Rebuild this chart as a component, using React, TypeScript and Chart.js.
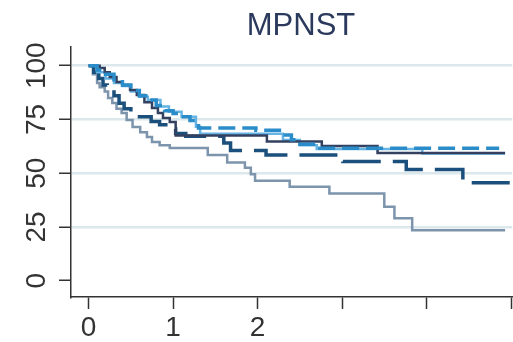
import { useEffect, useRef } from 'react';
import { Chart, registerables } from 'chart.js';

Chart.register(...registerables);

// Axis ticks
const xTickValues = [0, 1, 2, 3, 4, 5];
const xTickLabels = ['0', '1', '2', '', '', ''];
const yTickValues = [0, 25, 50, 75, 100];

// Kaplan-Meier curves: time of each step and survival (%) after it
const steelTimes = [0, 0.05, 0.10, 0.13, 0.19, 0.23, 0.28, 0.33, 0.39, 0.45, 0.52, 0.61, 0.69, 0.75, 0.84, 0.96, 1.41, 1.64, 1.85, 1.92, 1.97, 2.38, 2.85, 3.50, 3.62, 3.83, 4.93];
const steelSurv = [100, 96, 92, 90, 88, 85, 82.6, 80, 78, 74.7, 71.5, 69, 66.8, 64.5, 63, 61.7, 58.5, 55, 52.5, 49.5, 46.5, 43.7, 40.6, 34.4, 29, 23.5, 23.5];

const darkDashTimes = [0, 0.06, 0.12, 0.17, 0.22, 0.30, 0.36, 0.42, 0.50, 0.74, 0.84, 0.95, 1.03, 1.15, 1.60, 1.68, 2.10, 3.01, 3.76, 4.43, 4.99];
const darkDashSurv = [100, 97, 94, 91, 88.6, 86, 82.5, 80, 76.3, 74, 72.5, 70.5, 68.5, 67.2, 64, 60.6, 58.5, 55.4, 51.7, 45.6, 45.6];

const navyTimes = [0, 0.13, 0.19, 0.25, 0.33, 0.40, 0.49, 0.57, 0.66, 0.75, 0.82, 0.88, 0.96, 1.03, 2.11, 2.76, 3.42, 4.93];
const navySurv = [100, 98.9, 97, 94.7, 92.4, 91, 88.7, 86.4, 83, 80.3, 78, 75.7, 73.8, 67.5, 64.7, 62.6, 59.4, 59.4];

const skyTimes = [0, 0.10, 0.20, 0.30, 0.40, 0.50, 0.60, 0.70, 0.85, 0.95, 1.10, 1.27, 1.32, 2.30, 2.50, 2.70, 3.95, 4.93];
const skySurv = [100, 97, 94, 92, 90.5, 88, 85.6, 84, 81, 78.6, 76.3, 71.6, 68.3, 65.4, 63, 61.3, 59.2, 59.2];

const blueDashTimes = [0, 0.10, 0.20, 0.30, 0.40, 0.50, 0.60, 0.70, 0.80, 0.90, 1.00, 1.10, 1.20, 1.30, 1.98, 2.28, 2.40, 2.50, 2.70, 4.86];
const blueDashSurv = [100, 98, 96, 93.5, 91, 88.5, 86, 84, 81.5, 79, 77.8, 76.3, 74.5, 71, 70, 67.8, 65.5, 63.5, 61.6, 61.6];

const toPoints = (times: number[], surv: number[]) =>
  times.map((t, i) => ({ x: t, y: surv[i] }));

const FONT = '"Liberation Sans", Arial, sans-serif';

const panelTitle = {
  id: 'panelTitle',
  afterDraw(chart: Chart) {
    const { ctx } = chart;
    ctx.save();
    ctx.font = `31px ${FONT}`;
    ctx.fillStyle = '#2b3a5c';
    ctx.textAlign = 'center';
    ctx.textBaseline = 'alphabetic';
    ctx.fillText('MPNST', 301, 35);
    ctx.restore();
  },
};

export default function App() {
  const canvasRef = useRef<HTMLCanvasElement | null>(null);

  useEffect(() => {
    const canvas = canvasRef.current;
    if (!canvas) return;

    const curve = (data: { x: number; y: number }[], color: string, width: number, dash: number[] = []) => ({
      data,
      borderColor: color,
      borderWidth: width,
      borderDash: dash,
      stepped: true as const,
      pointRadius: 0,
      fill: false,
      tension: 0,
    });

    const chart = new Chart(canvas, {
      type: 'line',
      data: {
        datasets: [
          curve(toPoints(blueDashTimes, blueDashSurv), '#2a8cc8', 3.5, [17, 7]),
          curve(toPoints(navyTimes, navySurv), '#33405f', 2.5),
          curve(toPoints(skyTimes, skySurv), '#66b4e4', 2.5),
          curve(toPoints(darkDashTimes, darkDashSurv), '#1b4f7c', 3.5, [38, 12]),
          curve(toPoints(steelTimes, steelSurv), '#7c94ac', 2.5),
        ],
      },
      options: {
        animation: false,
        responsive: false,
        layout: { padding: { top: 47, left: 0, right: 0, bottom: 0 } },
        plugins: {
          legend: { display: false },
          tooltip: { enabled: false },
          title: { display: false },
        },
        scales: {
          x: {
            type: 'linear',
            min: -0.209,
            max: 5.015,
            afterBuildTicks: (scale: any) => {
              scale.ticks = xTickValues.map((v) => ({ value: v }));
            },
            afterFit: (scale: any) => {
              scale.height = 45;
            },
            ticks: {
              autoSkip: false,
              maxRotation: 0,
              minRotation: 0,
              padding: 2,
              color: '#333333',
              font: { size: 28, family: FONT },
              callback: (value: any) => {
                const i = xTickValues.indexOf(Number(value));
                return i >= 0 ? xTickLabels[i] : '';
              },
            },
            grid: {
              drawOnChartArea: false,
              drawTicks: true,
              tickLength: 12,
              tickColor: '#333333',
              tickWidth: 1.5,
            },
            border: { display: true, color: '#333333', width: 1.5 },
          },
          y: {
            type: 'linear',
            min: -7.6,
            max: 108.7,
            afterBuildTicks: (scale: any) => {
              scale.ticks = yTickValues.map((v) => ({ value: v }));
            },
            afterFit: (scale: any) => {
              scale.width = 71;
            },
            ticks: {
              autoSkip: false,
              minRotation: 90,
              maxRotation: 90,
              crossAlign: 'center',
              padding: -2,
              color: '#333333',
              font: { size: 28, family: FONT },
            },
            grid: {
              color: (ctx: any) => (ctx.tick && ctx.tick.value === 0 ? 'rgba(0,0,0,0)' : '#dce8eb'),
              lineWidth: 2.5,
              drawTicks: true,
              tickLength: 12,
              tickColor: '#333333',
              tickWidth: 1.5,
            },
            border: { display: true, color: '#333333', width: 1.5 },
          },
        },
      },
      plugins: [panelTitle],
    });

    return () => chart.destroy();
  }, []);

  return (
    <div style={{ position: 'absolute', left: 0, top: 0, width: 513, height: 342, background: '#ffffff' }}>
      <canvas ref={canvasRef} width={513} height={342} style={{ display: 'block' }} />
    </div>
  );
}
